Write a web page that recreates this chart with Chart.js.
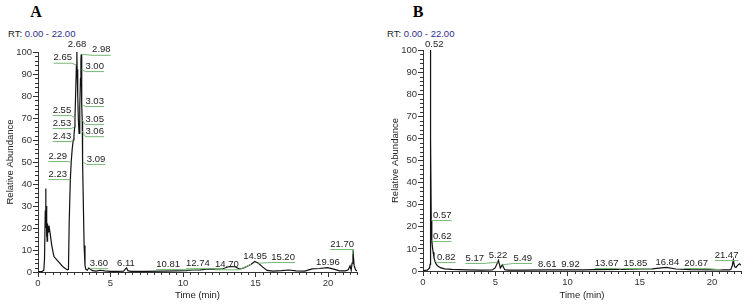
<!DOCTYPE html>
<html>
<head>
<meta charset="utf-8">
<script src="https://cdn.jsdelivr.net/npm/chart.js@4.4.0/dist/chart.umd.min.js"></script>
<style>
body { margin:0; background:#fff; width:749px; height:307px; position:relative; overflow:hidden; font-family:"Liberation Sans", Arial, sans-serif; }
.panel { position:absolute; top:0; height:307px; }
.panel canvas { position:absolute; left:0; top:0; }
.letter { position:absolute; top:4px; width:24px; text-align:center; font:bold 16px/16px "Liberation Serif", "Times New Roman", serif; color:#000; }
.rt { position:absolute; top:29px; font-size:9.5px; line-height:10px; color:#222; white-space:nowrap; }
.rt span { color:#2e2e8c; }
</style>
</head>
<body>

<div class="panel" style="left:0;width:375px">
  <div class="letter" style="left:24px">A</div>
  <div class="rt" style="left:8px">RT: <span>0.00 - 22.00</span></div>
  <canvas id="chartA" width="375" height="307"></canvas>
</div>

<div class="panel" style="left:385px;width:364px">
  <div class="letter" style="left:21px">B</div>
  <div class="rt" style="left:2px">RT: <span>0.00 - 22.00</span></div>
  <canvas id="chartB" width="364" height="307"></canvas>
</div>

<script>
// chromatogramme A
const timeA = [0.00, 0.30, 0.40, 0.45, 0.50, 0.53, 0.55, 0.57, 0.59, 0.61, 0.63, 0.65, 0.67, 0.69, 0.72, 0.78, 0.85, 0.95, 1.10, 1.30,
  1.50, 1.70, 1.90, 2.05, 2.10, 2.15, 2.23, 2.29, 2.36, 2.43, 2.48, 2.53, 2.55, 2.60, 2.65, 2.68, 2.70, 2.74, 2.78, 2.83,
  2.88, 2.93, 2.96, 2.98, 3.00, 3.03, 3.05, 3.06, 3.09, 3.13, 3.18, 3.24, 3.30, 3.40, 3.50, 3.60, 3.75, 4.00, 4.30, 4.60,
  5.00, 5.50, 5.90, 6.05, 6.11, 6.20, 6.40, 7.50, 8.50, 9.50, 10.20, 10.81, 11.20, 11.80, 12.40, 12.74, 13.20, 13.60, 13.90, 14.20,
  14.70, 14.95, 15.20, 15.50, 15.80, 16.20, 16.80, 17.30, 17.80, 18.40, 18.90, 19.40, 19.96, 20.40, 20.80, 21.20, 21.40, 21.52, 21.60, 21.66,
  21.72, 21.80, 21.90, 22.00];
const abundA = [0.2, 0.3, 0.8, 6, 28, 38, 20, 30, 16, 24, 14, 22, 17, 21, 18, 20, 17, 12, 7, 5.5,
  4, 2.5, 1.5, 1.0, 1.2, 22, 42, 50, 56, 60, 62, 66, 70, 82, 94, 100, 92, 80, 70, 63,
  75, 88, 96, 99, 92, 76, 69, 64, 50, 30, 12, 3, 1.2, 0.8, 1.8, 1.4, 0.6, 0.4, 0.8, 0.5,
  0.3, 0.3, 0.4, 1.5, 1.8, 0.6, 0.3, 0.3, 0.4, 0.5, 0.6, 0.9, 1.0, 1.4, 1.3, 1.5, 2.5, 2.4, 1.3, 1.8,
  3.5, 4.8, 4.0, 2.2, 0.7, 0.4, 0.6, 0.9, 0.5, 0.4, 1.4, 1.6, 2.0, 1.3, 0.5, 0.5, 1.0, 2.8, 0.8, 4,
  10, 3, 1, 0.4];
const peaksA = ['2.68', '2.98', '2.65', '3.00', '3.03', '3.05', '3.06', '3.09', '2.55', '2.53', '2.43', '2.29', '2.23',
  '3.60', '6.11', '10.81', '12.74', '14.70', '14.95', '15.20', '19.96', '21.70'];
// emplacement des étiquettes (min, % abondance)
const tagXA = [2.69, 4.37, 1.71, 3.91, 3.91, 3.91, 3.91, 4.0, 1.65, 1.65, 1.65, 1.36, 1.36,
  4.2, 6.07, 8.97, 11.03, 13.03, 14.97, 16.9, 20.0, 20.97];
const tagYA = [103.6, 101, 97.4, 93.6, 77.7, 69.5, 64, 51.4, 73.6, 67.7, 61.8, 52.7, 44.5,
  4, 4, 3.6, 4, 3.5, 7.3, 6.8, 4.5, 12.7];

// chromatogramme B
const timeB = [0.00, 0.30, 0.40, 0.46, 0.49, 0.51, 0.52, 0.54, 0.57, 0.60, 0.62, 0.65, 0.70, 0.76, 0.82, 0.90, 1.00, 1.20, 1.50, 2.00,
  3.00, 4.00, 4.80, 5.00, 5.10, 5.17, 5.22, 5.35, 5.49, 5.65, 5.90, 7.00, 8.61, 9.92, 11.00, 12.00, 13.67, 15.00, 15.85, 16.84,
  17.50, 18.50, 20.67, 21.20, 21.30, 21.40, 21.47, 21.55, 21.65, 21.80, 21.90, 22.00];
const abundB = [0.2, 0.4, 1.0, 1.5, 3, 60, 100, 60, 23, 17, 14, 11, 8.5, 6, 4.5, 3.2, 2.4, 1.5, 1.0, 0.7,
  0.5, 0.4, 0.5, 1.5, 3.0, 4.0, 4.8, 1.4, 2.8, 0.6, 0.4, 0.4, 0.5, 0.5, 0.5, 0.6, 0.7, 0.9, 1.0, 1.6,
  0.9, 0.6, 0.5, 0.5, 0.7, 2.5, 5.0, 2.0, 1.6, 2.8, 3.3, 2.6];
const peaksB = ['0.52', '0.57', '0.62', '0.82', '5.17', '5.22', '5.49', '8.61', '9.92', '13.67', '15.85', '16.84', '20.67', '21.47'];
const tagXB = [0.78, 1.33, 1.33, 1.61, 3.58, 5.19, 6.9, 8.6, 10.2, 12.7, 14.7, 16.9, 18.9, 21.0];
const tagYB = [102.7, 25.3, 15.8, 6.3, 5.9, 7.2, 5.9, 3.2, 3.2, 3.6, 3.6, 4, 3.6, 7.2];

const xTicks = [0, 5, 10, 15, 20];
const yTicks = [0, 10, 20, 30, 40, 50, 60, 70, 80, 90, 100];

const fontFamily = '"Liberation Sans", Arial, sans-serif';
const axisColor = '#333';
const tagColor = '#76b876';

function interp(xs, ys, t) {
    for (let i = 1; i < xs.length; i++) {
        if (xs[i] >= t) {
            const f = (t - xs[i - 1]) / (xs[i] - xs[i - 1]);
            return ys[i - 1] + f * (ys[i] - ys[i - 1]);
        }
    }
    return ys[ys.length - 1];
}

// petites graduations
const minorTicks = {
    id: 'minorTicks',
    afterDraw(chart) {
        const {ctx, scales: {x, y}, chartArea} = chart;
        ctx.save();
        ctx.strokeStyle = axisColor;
        ctx.lineWidth = 1;
        ctx.beginPath();
        for (let v = 0; v <= 100; v += 2) {
            if (v % 10 === 0) continue;
            const py = Math.round(y.getPixelForValue(v)) + 0.5;
            ctx.moveTo(chartArea.left - 3, py);
            ctx.lineTo(chartArea.left, py);
        }
        for (let v = 0; v <= 22; v += 0.5) {
            if (v % 5 === 0) continue;
            const px = Math.round(x.getPixelForValue(v)) + 0.5;
            ctx.moveTo(px, chartArea.bottom);
            ctx.lineTo(px, chartArea.bottom + 3);
        }
        ctx.stroke();
        ctx.restore();
    }
};

// étiquettes des pics
const peakTags = {
    id: 'peakTags',
    afterDatasetsDraw(chart, args, opts) {
        const {ctx, scales: {x, y}} = chart;
        const ds = chart.data.datasets[0].data;
        const xs = ds.map(p => p.x), ys = ds.map(p => p.y);
        ctx.save();
        ctx.font = '9.5px ' + fontFamily;
        ctx.textAlign = 'center';
        ctx.textBaseline = 'middle';
        opts.texts.forEach((txt, i) => {
            const rt = parseFloat(txt);
            const px = x.getPixelForValue(rt);
            const py = y.getPixelForValue(interp(xs, ys, rt));
            const tx = x.getPixelForValue(opts.xs[i]);
            const ty = y.getPixelForValue(opts.ys[i]);
            const w = ctx.measureText(txt).width;
            if (Math.abs(tx - px) > 6) {
                const uy = ty + 5.5;
                const l = tx - w / 2, r = tx + w / 2;
                const near = Math.min(Math.max(px, l), r);
                ctx.strokeStyle = tagColor;
                ctx.lineWidth = 1;
                ctx.beginPath();
                ctx.moveTo(l, uy);
                ctx.lineTo(r, uy);
                ctx.moveTo(near, uy);
                ctx.lineTo(px, py);
                ctx.stroke();
            }
            ctx.fillStyle = '#222';
            ctx.fillText(txt, tx, ty);
        });
        ctx.restore();
    }
};

function makeChart(id, times, abund, texts, tagX, tagY, topPad, rightPad, xHeight) {
    const ctx = document.getElementById(id).getContext('2d');
    return new Chart(ctx, {
        type: 'line',
        data: {
            datasets: [{
                data: times.map((t, i) => ({x: t, y: abund[i]})),
                borderColor: '#111',
                borderWidth: 1.2,
                pointRadius: 0,
                tension: 0,
                fill: false
            }]
        },
        options: {
            responsive: false,
            animation: false,
            devicePixelRatio: 1,
            layout: {padding: {top: topPad, right: rightPad, left: 0, bottom: 0}},
            plugins: {
                legend: {display: false},
                tooltip: {enabled: false},
                peakTags: {texts: texts, xs: tagX, ys: tagY}
            },
            scales: {
                x: {
                    type: 'linear', min: 0, max: 22,
                    afterBuildTicks: s => { s.ticks = xTicks.map(v => ({value: v})); },
                    ticks: {color: axisColor, font: {family: fontFamily, size: 9.5}, padding: 1, maxRotation: 0},
                    grid: {drawOnChartArea: false, tickLength: 5, color: axisColor},
                    border: {color: axisColor},
                    title: {display: true, text: 'Time (min)', color: '#222', font: {family: fontFamily, size: 9.5}, padding: {bottom: 6}},
                    afterFit: s => { s.height = xHeight; }
                },
                y: {
                    min: 0, max: 100,
                    afterBuildTicks: s => { s.ticks = yTicks.map(v => ({value: v})); },
                    ticks: {color: axisColor, font: {family: fontFamily, size: 9.5}, padding: 1},
                    grid: {drawOnChartArea: false, tickLength: 5, color: axisColor},
                    border: {color: axisColor},
                    title: {display: true, text: 'Relative Abundance', color: '#222', font: {family: fontFamily, size: 9.5}, padding: {top: 5}},
                    afterFit: s => { s.width = 38; }
                }
            }
        },
        plugins: [minorTicks, peakTags]
    });
}

makeChart('chartA', timeA, abundA, peaksA, tagXA, tagYA, 52, 18, 35);
makeChart('chartB', timeB, abundB, peaksB, tagXB, tagYB, 50, 8, 36);
</script>
</body>
</html>
